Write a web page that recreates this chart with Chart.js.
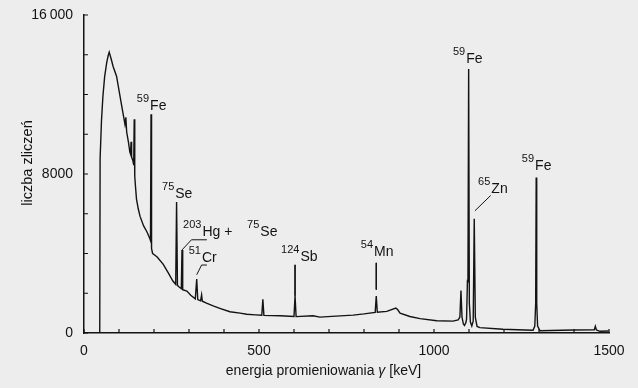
<!DOCTYPE html>
<html>
<head>
<meta charset="utf-8">
<script src="https://cdn.jsdelivr.net/npm/chart.js@4/dist/chart.umd.min.js"></script>
<style>
  html, body { margin: 0; padding: 0; background: #ededed; }
  #spectrum { display: block; }
</style>
</head>
<body>
<canvas id="spectrum" width="638" height="388"></canvas>
<script>
// gamma spectrum: energy [keV] and counts
const energyKeV = [
  45, 46, 50, 54, 59, 65, 69, 72, 75, 79, 83, 93, 103, 110, 117, 119.5, 122,
  127, 131, 133, 134.5, 136, 140, 142, 143.5, 145, 147, 150, 155, 160, 170,
  180, 188, 190, 191.5, 193, 196, 200, 209, 226, 240, 254, 262, 264.5, 267,
  270, 278, 280, 282, 294, 305, 318, 322, 325, 333, 336, 338, 350, 369, 390,
  417, 446, 465, 490, 508, 511, 514, 560, 600, 603, 606, 654, 674, 720, 769,
  800, 832, 835, 838, 865, 891, 896, 903, 931, 960, 1008, 1054, 1069, 1074,
  1077, 1080, 1084, 1087, 1091, 1093, 1095.5, 1097, 1099, 1101, 1104, 1108,
  1112, 1115, 1118, 1123, 1131, 1197, 1260, 1283, 1288, 1290.5, 1292, 1293.5,
  1296, 1303, 1397, 1458, 1461, 1464, 1474, 1499
];
const counts = [
  0, 8750, 10700, 11900, 12900, 13620, 13950, 14130, 13950, 13700, 13420, 12920, 11900, 11200, 10500, 10850, 10100,
  9600, 9100, 9000, 9620, 8850, 8650, 8450, 10760, 7900, 7400, 6740, 6250, 5880, 5400,
  5080, 4750, 4650, 11010, 4250, 4000, 3950, 3820, 3470, 3050, 2615, 2450, 6590, 2400,
  2340, 2230, 4180, 2180, 2110, 1900, 1720, 2720, 1680, 1620, 1915, 1600, 1500, 1360, 1230,
  1070, 1000, 945, 910, 890, 1690, 885, 865, 830, 1870, 825, 870, 800, 850, 900,
  960, 1040, 1860, 1050, 1090, 1250, 1180, 1000, 830, 725, 620, 600, 660, 800,
  2140, 800, 450, 380, 520, 700, 2620, 2600, 13280, 1500, 550, 350,
  600, 5750, 800, 330, 270, 190, 150, 135, 350, 1500, 7820, 1500,
  350, 115, 150, 160, 340, 150, 85, 100
];

const xTickValues = [0, 500, 1000, 1500];
const xTickText = ["0", "500", "1000", "1500"];
const yTickValues = [0, 8000, 16000];
const yTickText = ["0", "8000", "16\u2009000"];

// peak labels: mass number, element, anchor [keV, counts]
const isoMass = ["59", "75", "203", "75", "51", "124", "54", "59", "65", "59"];
const isoSymbol = ["Fe", "Se", "Hg +", "Se", "Cr", "Sb", "Mn", "Fe", "Zn", "Fe"];
const isoAnchor = [
  [151, 11225], [223, 6800], [283, 4866], [466, 4866], [299, 3560],
  [563, 3610], [791, 3860], [1054, 13590], [1126, 7050], [1251, 8210]
];

// leader lines from labels to peaks
const leaders = [
  [[280, 4180], [307, 4690], [351, 4690]],
  [[322, 2930], [336, 3420], [351, 3420]],
  [[603, 3430], [603, 1870]],
  [[835, 3530], [835, 2180]],
  [[1117, 6150], [1162, 6920]]
];

const ink = "#131313";
const family = '"Liberation Sans", Arial, Helvetica, sans-serif';

Chart.defaults.font.family = family;
Chart.defaults.font.size = 14;
Chart.defaults.color = ink;

const spectrum = energyKeV.map((e, i) => ({ x: e, y: counts[i] }));

const leaderSets = leaders.map(pts => ({
  data: pts.map(p => ({ x: p[0], y: p[1] })),
  borderColor: ink,
  borderWidth: 1,
  pointRadius: 0,
  tension: 0
}));

const inkPlugin = {
  id: "ink",
  afterDraw(chart) {
    const { ctx, chartArea: a, scales: { x, y } } = chart;
    ctx.save();
    ctx.strokeStyle = ink;
    ctx.lineWidth = 1.2;
    ctx.beginPath();
    x.ticks.forEach(t => {
      const px = x.getPixelForValue(t.value);
      ctx.moveTo(px, a.bottom);
      ctx.lineTo(px, a.bottom - 4);
    });
    y.ticks.forEach(t => {
      const py = y.getPixelForValue(t.value);
      ctx.moveTo(a.left, py);
      ctx.lineTo(a.left + 4, py);
    });
    ctx.stroke();

    ctx.fillStyle = ink;
    ctx.textAlign = "left";
    ctx.textBaseline = "alphabetic";
    isoMass.forEach((m, i) => {
      const px = x.getPixelForValue(isoAnchor[i][0]);
      const py = y.getPixelForValue(isoAnchor[i][1]);
      ctx.font = "11px " + family;
      ctx.fillText(m, px, py - 8);
      const w = ctx.measureText(m).width;
      ctx.font = "14px " + family;
      ctx.fillText(isoSymbol[i], px + w + 1, py);
    });

    // x title with italic gamma
    const parts = [["energia promieniowania ", ""], ["\u03b3", "italic "], [" [keV]", ""]];
    let total = 0;
    parts.forEach(p => { ctx.font = p[1] + "14px " + family; total += ctx.measureText(p[0]).width; });
    let cx = 323.5 - total / 2;
    parts.forEach(p => {
      ctx.font = p[1] + "14px " + family;
      ctx.fillText(p[0], cx, 375);
      cx += ctx.measureText(p[0]).width;
    });

    // y title
    ctx.translate(32, 163);
    ctx.rotate(-Math.PI / 2);
    ctx.textAlign = "center";
    ctx.font = "14.5px " + family;
    ctx.fillText("liczba zlicze\u0144", 0, 0);
    ctx.restore();
  }
};

new Chart(document.getElementById("spectrum"), {
  type: "line",
  data: {
    datasets: [{
      data: spectrum,
      borderColor: ink,
      borderWidth: 1.4,
      pointRadius: 0,
      tension: 0
    }, ...leaderSets]
  },
  options: {
    responsive: false,
    animation: false,
    layout: { padding: { top: 15, right: 29, left: 0, bottom: 0 } },
    plugins: { legend: { display: false }, tooltip: { enabled: false } },
    scales: {
      x: {
        type: "linear",
        min: 0,
        max: 1500,
        grid: { display: false, drawTicks: false },
        border: { display: true, color: ink, width: 1.5 },
        ticks: {
          stepSize: 100,
          autoSkip: false,
          maxRotation: 0,
          padding: 10,
          callback: v => { const k = xTickValues.indexOf(v); return k < 0 ? "" : xTickText[k]; }
        },
        afterFit: s => { s.height = 55; s.paddingLeft = 0; s.paddingRight = 0; }
      },
      y: {
        min: 0,
        max: 16000,
        grid: { display: false, drawTicks: false },
        border: { display: true, color: ink, width: 1.5 },
        ticks: {
          stepSize: 2000,
          autoSkip: false,
          padding: 11,
          callback: v => { const k = yTickValues.indexOf(v); return k < 0 ? "" : yTickText[k]; }
        },
        afterFit: s => { s.width = 84; s.paddingTop = 0; s.paddingBottom = 0; }
      }
    }
  },
  plugins: [inkPlugin]
});
</script>
</body>
</html>
